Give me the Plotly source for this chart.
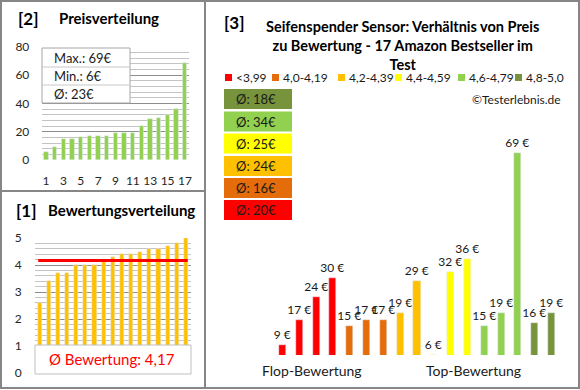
import plotly.graph_objects as go

# ---------------- data ----------------
idx = list(range(1, 18))
prices_sorted = [6, 9, 15, 15, 16, 17, 17, 17, 19, 19, 19, 24, 29, 30, 32, 36, 69]
ratings_sorted = [2.6, 3.4, 3.7, 3.7, 4.0, 4.0, 4.0, 4.2, 4.3, 4.4, 4.4, 4.5, 4.6, 4.6, 4.7, 4.8, 5.0]
# right chart: products ordered by rating, with their prices
prod_ratings = [2.6, 3.4, 3.7, 3.7, 4.0, 4.0, 4.0, 4.2, 4.3, 4.4, 4.4, 4.5, 4.6, 4.6, 4.7, 4.8, 5.0]
prod_prices = [9, 17, 24, 30, 15, 17, 17, 19, 29, 6, 32, 36, 15, 19, 69, 16, 19]
group_labels = ["<3,99", "4,0-4,19", "4,2-4,39", "4,4-4,59", "4,6-4,79", "4,8-5,0"]
group_lower = [0.0, 4.0, 4.2, 4.4, 4.6, 4.8]
price_xticks = [1, 3, 5, 7, 9, 11, 13, 15, 17]

# ---------------- styles ----------------
W, H = 580, 390
FONT = "Lato"
group_colors = ["#FF0000", "#E46C0A", "#FFC000", "#FFFF00", "#92D050", "#77933C"]
GREEN = "#92D050"
GOLD = "#FFC000"
TXT = "#1a1a1a"


def X(px):
    return px / W


def Y(py):
    return 1 - py / H


def group_of(r):
    g = 0
    for i, lo in enumerate(group_lower):
        if r >= lo - 1e-9:
            g = i
    return g


bar_groups = [group_of(r) for r in prod_ratings]
bar_colors = [group_colors[g] for g in bar_groups]
group_avg = []
for g in range(len(group_labels)):
    vals = [p for p, gg in zip(prod_prices, bar_groups) if gg == g]
    group_avg.append(int(sum(vals) / len(vals) + 0.5))

mean_price = int(sum(prices_sorted) / len(prices_sorted) + 0.5)
mean_rating = sum(ratings_sorted) / len(ratings_sorted)

fig = go.Figure()

# [2] price distribution
fig.add_trace(go.Bar(x=idx, y=prices_sorted, marker_color=GREEN, width=0.5,
                     xaxis="x", yaxis="y", hoverinfo="skip"))
# [1] rating distribution
fig.add_trace(go.Bar(x=idx, y=ratings_sorted, marker_color=GOLD, width=0.45,
                     xaxis="x2", yaxis="y2", hoverinfo="skip"))
fig.add_trace(go.Scatter(x=[idx[0] - 0.15, idx[-1] + 0.2], y=[mean_rating, mean_rating],
                         mode="lines", line=dict(color="#FF0000", width=3),
                         xaxis="x2", yaxis="y2", hoverinfo="skip"))
# [3] price vs rating
fig.add_trace(go.Bar(x=idx, y=prod_prices, marker_color=bar_colors, width=0.42,
                     texttemplate="%{y} €", textposition="outside", constraintext="none",
                     textfont=dict(family=FONT, size=12, color=TXT), cliponaxis=False,
                     xaxis="x3", yaxis="y3", hoverinfo="skip"))

axis_font = dict(family=FONT, size=12, color="#262626")

layout = dict(
    width=W, height=H, margin=dict(l=0, r=0, t=0, b=0, pad=0, autoexpand=False),
    autosize=False,
    paper_bgcolor="white", plot_bgcolor="white", showlegend=False,
    bargap=0,
    xaxis=dict(domain=[X(41.7), X(189.3)], range=[0.5, 17.5], tickmode="array",
               tickvals=price_xticks, showgrid=False, zeroline=False, automargin=False,
               ticks="outside", ticklen=10, tickcolor="rgba(0,0,0,0)", tickfont=axis_font,
               anchor="y"),
    yaxis=dict(domain=[Y(160), Y(47)], range=[0, 80], tickmode="array", automargin=False,
               tickvals=[0, 20, 40, 60, 80], showgrid=True, gridcolor="#8c8c8c", gridwidth=1,
               minor=dict(dtick=4, tick0=0, showgrid=True, gridcolor="#c4c4c4", ticks=""),
               zeroline=False, ticks="outside", ticklen=9, tickcolor="rgba(0,0,0,0)",
               tickfont=axis_font, anchor="x"),
    xaxis2=dict(domain=[X(35), X(190.5)], range=[0.5, 17.5], showticklabels=False,
                showgrid=False, zeroline=False, anchor="y2", automargin=False),
    yaxis2=dict(domain=[Y(373), Y(238)], range=[0, 5], tickmode="array", automargin=False,
                tickvals=[0, 1, 2, 3, 4, 5], showgrid=True, gridcolor="#8c8c8c",
                minor=dict(dtick=0.2, tick0=0, showgrid=True, gridcolor="#c4c4c4", ticks=""),
                zeroline=False, ticks="outside", ticklen=10, tickcolor="rgba(0,0,0,0)",
                tickfont=axis_font, anchor="x2"),
    xaxis3=dict(domain=[X(274), X(560)], range=[0.5, 17.5], visible=False, anchor="y3",
                automargin=False),
    yaxis3=dict(domain=[Y(355), Y(118)], range=[6, 80], visible=False, anchor="x3",
                automargin=False),
)
fig.update_layout(**layout)

shapes = []
annotations = []
GRAY = "#868686"
# panel borders
shapes.append(dict(type="rect", xref="paper", yref="paper", x0=X(1), x1=X(579), y0=Y(388), y1=Y(1),
                   line=dict(color=GRAY, width=2), layer="above"))
shapes.append(dict(type="line", xref="paper", yref="paper", x0=X(205), x1=X(205), y0=Y(388), y1=Y(1),
                   line=dict(color=GRAY, width=2), layer="above"))
shapes.append(dict(type="line", xref="paper", yref="paper", x0=X(1), x1=X(205), y0=Y(191), y1=Y(191),
                   line=dict(color=GRAY, width=2), layer="above"))

# stats box in [2]
shapes.append(dict(type="rect", xref="paper", yref="paper", x0=X(42), x1=X(130), y0=Y(103), y1=Y(48),
                   fillcolor="white", line=dict(color="#a6a6a6", width=1), layer="above"))
for yy in (67, 85):
    shapes.append(dict(type="line", xref="paper", yref="paper", x0=X(42), x1=X(130), y0=Y(yy), y1=Y(yy),
                       line=dict(color="#c8c8c8", width=1), layer="above"))
stats = [f"Max.: {max(prices_sorted)}€", f"Min.: {min(prices_sorted)}€", f"Ø: {mean_price}€"]
for s, yy in zip(stats, (57.5, 76, 94)):
    annotations.append(dict(x=X(52), y=Y(yy), xref="paper", yref="paper", text=s, showarrow=False,
                            xanchor="left", yanchor="middle", font=dict(family=FONT, size=13, color=TXT)))

# mean box in [1]
shapes.append(dict(type="rect", xref="paper", yref="paper", x0=X(35), x1=X(191), y0=Y(374), y1=Y(345),
                   fillcolor="white", line=dict(color="#bfbfbf", width=1), layer="above"))
annotations.append(dict(x=X(112), y=Y(359), xref="paper", yref="paper",
                        text="Ø Bewertung: " + f"{mean_rating:.2f}".replace(".", ","),
                        showarrow=False, xanchor="center", yanchor="middle",
                        font=dict(family=FONT, size=15, color="#FF0000")))


def title(x, y, text, size, bold=True, anchor="left"):
    annotations.append(dict(x=X(x), y=Y(y), xref="paper", yref="paper",
                            text=f"<b>{text}</b>" if bold else text, showarrow=False,
                            xanchor=anchor, yanchor="middle",
                            font=dict(family=FONT, size=size, color="black")))


title(16, 18, "[2]", 17)
title(57, 18, "Preisverteilung", 15)
title(14, 210, "[1]", 17)
title(46, 210, "Bewertungsverteilung", 15)
title(222, 22, "[3]", 17)
annotations.append(dict(x=X(402), y=Y(16), xref="paper", yref="paper", yanchor="top",
                        text="<b>Seifenspender Sensor: Verhältnis von Preis<br>zu Bewertung - 17 Amazon Bestseller im<br>Test</b>",
                        showarrow=False, xanchor="center", align="center",
                        font=dict(family=FONT, size=14.5, color="black")))

# legend row
leg_sq_x = [225, 272, 338, 395, 458, 515]
for lab, col, sx in zip(group_labels, group_colors, leg_sq_x):
    shapes.append(dict(type="rect", xref="paper", yref="paper", x0=X(sx), x1=X(sx + 7),
                       y0=Y(81), y1=Y(74), fillcolor=col, line=dict(width=0)))
    annotations.append(dict(x=X(sx + 9), y=Y(77.5), xref="paper", yref="paper", text=lab,
                            showarrow=False, xanchor="left", yanchor="middle",
                            font=dict(family=FONT, size=12, color=TXT)))

annotations.append(dict(x=X(563), y=Y(99), xref="paper", yref="paper", text="©Testerlebnis.de",
                        showarrow=False, xanchor="right", yanchor="middle",
                        font=dict(family=FONT, size=12, color=TXT)))

# average boxes (best group on top)
box_tops = [89, 111.5, 133.5, 156, 178, 200]
for k, g in enumerate(reversed(range(len(group_labels)))):
    t = box_tops[k]
    shapes.append(dict(type="rect", xref="paper", yref="paper", x0=X(224), x1=X(292),
                       y0=Y(t + 20), y1=Y(t), fillcolor=group_colors[g], line=dict(width=0)))
    annotations.append(dict(x=X(234), y=Y(t + 10), xref="paper", yref="paper",
                            text=f"Ø: {group_avg[g]}€", showarrow=False, xanchor="left",
                            yanchor="middle", font=dict(family=FONT, size=13, color=TXT)))

annotations.append(dict(x=X(312), y=Y(370), xref="paper", yref="paper", text="Flop-Bewertung",
                        showarrow=False, xanchor="center", yanchor="middle",
                        font=dict(family=FONT, size=14, color=TXT)))
annotations.append(dict(x=X(473), y=Y(370), xref="paper", yref="paper", text="Top-Bewertung",
                        showarrow=False, xanchor="center", yanchor="middle",
                        font=dict(family=FONT, size=14, color=TXT)))

fig.update_layout(shapes=shapes, annotations=annotations)
post = ("var d=document.documentElement,b=document.body;"
        "d.style.margin='0';d.style.padding='0';d.style.overflow='hidden';"
        "b.style.margin='0';b.style.padding='0';b.style.overflow='hidden';")
fig.write_html("out.html", config={"displayModeBar": False}, post_script=post)
